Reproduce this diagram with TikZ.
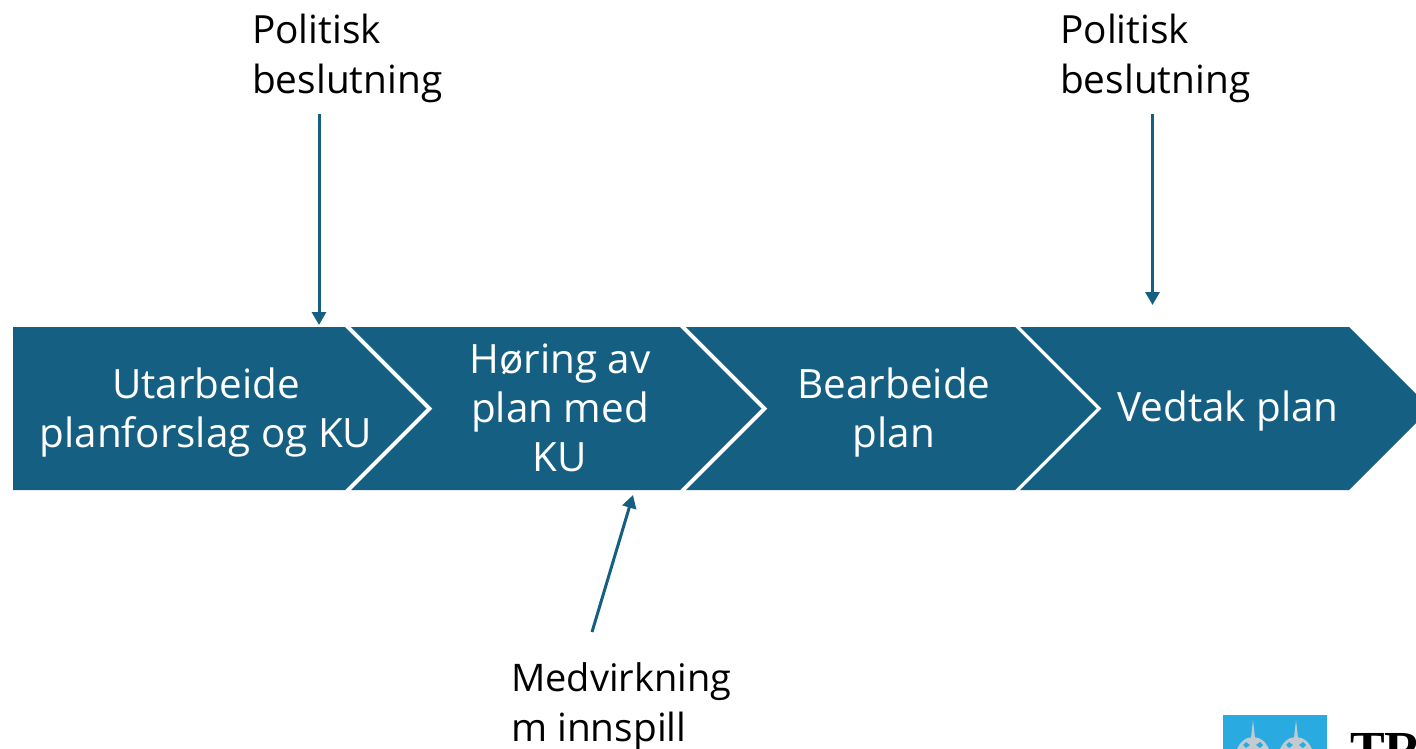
\documentclass[tikz,border=0pt]{standalone}
\usepackage{fontspec}
\setmainfont{Open Sans}
\newfontfamily\logofont{Liberation Serif}
\usetikzlibrary{arrows.meta}
\definecolor{planblue}{HTML}{156082}
\definecolor{shieldblue}{HTML}{29ABE2}
\definecolor{towergrey}{HTML}{C4CBD0}
\tikzset{
  x=1pt,y=-1pt,
  band/.style={fill=planblue,draw=none},
  onband/.style={text=white,align=center,font=\fontsize{40.4}{49}\selectfont,inner sep=0pt},
  remark/.style={text=black,align=left,font=\fontsize{38.8}{50}\selectfont,inner sep=0pt,anchor=north west},
  pointer/.style={draw=planblue,line width=3pt,-{Triangle[length=13pt,width=14pt]}},
  tower/.style={fill=towergrey,draw=none}
}
\begin{document}
\begin{tikzpicture}
\useasboundingbox (0,0) rectangle (1416,748);
\begin{scope}
\clip (0,0) rectangle (1416,748);
\fill[band] (13,327) -- (345,327) -- (426.5,408.5) -- (345,490) -- (13,490) -- cycle;
\fill[band] (351,327) -- (680,327) -- (761.5,408.5) -- (680,490) -- (351,490) -- (432.5,408.5) -- cycle;
\fill[band] (686,327) -- (1015,327) -- (1096.5,408.5) -- (1015,490) -- (686,490) -- (767.5,408.5) -- cycle;
\fill[band] (1020,327) -- (1349,327) -- (1430.5,408.5) -- (1349,490) -- (1020,490) -- (1101.5,408.5) -- cycle;
% logo
\fill[shieldblue] (1223,715) -- (1327,715) -- (1327,760) -- (1223,760) -- cycle;
\foreach \tx in {1253,1296}{
  \fill[tower] (\tx-2,745) -- (\tx-2,738) -- (\tx,720) -- (\tx+2,738) -- (\tx+2,745) -- cycle;
  \fill[tower] (\tx-17,752) .. controls (\tx-14,742) and (\tx-7,737) .. (\tx,737) .. controls (\tx+7,737) and (\tx+14,742) .. (\tx+17,752) -- cycle;
  \fill[shieldblue] (\tx-7,742) -- (\tx-3,745) -- (\tx-7,748) -- (\tx-10,745) -- cycle;
  \fill[shieldblue] (\tx+7,742) -- (\tx+10,745) -- (\tx+7,748) -- (\tx+3,745) -- cycle;
}
\node[inner sep=0pt,anchor=base west,text=black,font=\logofont\bfseries\fontsize{52}{52}\selectfont] (logotext) at (1350,767) {TR};
\end{scope}
\node[onband] (s1) at (206,412) {Utarbeide\\planforslag og KU};
\node[onband] (s2) at (560,408) {Høring av\\plan med\\KU};
\node[onband] (s3) at (894,412) {Bearbeide\\plan};
\node[onband] (s4) at (1228,411) {Vedtak plan};
\node[remark] (p1) at (252,14) {Politisk\\beslutning};
\node[remark] (p2) at (1060,14) {Politisk\\beslutning};
\node[remark] (m1) at (511,662) {\fontsize{38}{50}\selectfont Medvirkning\\m innspill};
\coordinate (a1s) at (319,114);
\coordinate (a1e) at (319,325);
\coordinate (a2s) at (1152.5,114);
\coordinate (a2e) at (1152.5,305);
\coordinate (a3s) at (592,632);
\coordinate (a3e) at (633,495);
\draw[pointer] (a1s) -- (a1e);
\draw[pointer] (a2s) -- (a2e);
\draw[pointer] (a3s) -- (a3e);
\end{tikzpicture}
\end{document}
